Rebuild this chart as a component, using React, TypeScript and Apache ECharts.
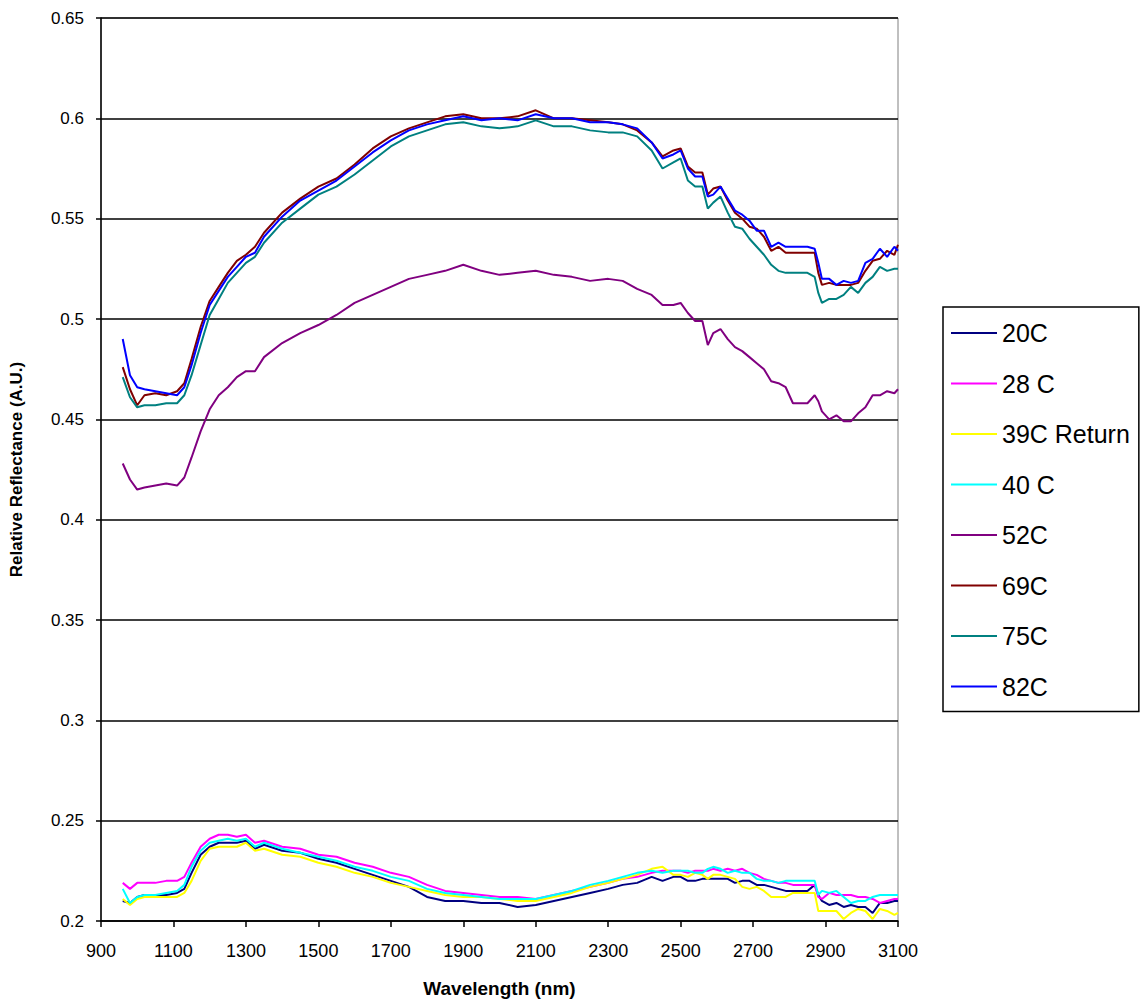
import React, { useEffect, useRef } from "react";
import * as echarts from "echarts";

// Wavelength sampling (nm) shared by every spectrum
const wavelengths = [
  960, 980, 1000, 1020, 1050, 1080, 1110, 1130, 1150, 1175,
  1200, 1225, 1250, 1275, 1300, 1325, 1350, 1400, 1450, 1500,
  1550, 1600, 1650, 1700, 1750, 1800, 1850, 1900, 1950, 2000,
  2050, 2100, 2150, 2200, 2250, 2300, 2340, 2380, 2420, 2450,
  2480, 2500, 2520, 2540, 2560, 2575, 2590, 2610, 2630, 2650,
  2670, 2690, 2710, 2730, 2750, 2770, 2790, 2810, 2830, 2850,
  2870, 2880, 2890, 2910, 2930, 2950, 2970, 2990, 3010, 3030,
  3050, 3070, 3090, 3100,
];

const r20C = [
  0.210, 0.209, 0.212, 0.213, 0.213, 0.213, 0.214, 0.216, 0.224, 0.233,
  0.237, 0.239, 0.239, 0.239, 0.240, 0.236, 0.238, 0.235, 0.234, 0.231,
  0.229, 0.226, 0.223, 0.220, 0.217, 0.212, 0.210, 0.210, 0.209, 0.209,
  0.207, 0.208, 0.210, 0.212, 0.214, 0.216, 0.218, 0.219, 0.222, 0.220,
  0.222, 0.222, 0.220, 0.220, 0.221, 0.221, 0.221, 0.221, 0.221, 0.219,
  0.220, 0.220, 0.218, 0.218, 0.217, 0.216, 0.215, 0.215, 0.215, 0.215,
  0.218, 0.213, 0.210, 0.208, 0.209, 0.207, 0.208, 0.207, 0.207, 0.204,
  0.209, 0.209, 0.210, 0.210,
];

const r28C = [
  0.219, 0.216, 0.219, 0.219, 0.219, 0.220, 0.220, 0.222, 0.229, 0.237,
  0.241, 0.243, 0.243, 0.242, 0.243, 0.239, 0.240, 0.237, 0.236, 0.233,
  0.232, 0.229, 0.227, 0.224, 0.222, 0.218, 0.215, 0.214, 0.213, 0.212,
  0.212, 0.211, 0.213, 0.215, 0.217, 0.219, 0.221, 0.222, 0.224, 0.225,
  0.225, 0.225, 0.224, 0.225, 0.225, 0.225, 0.226, 0.225, 0.226, 0.225,
  0.226, 0.224, 0.223, 0.221, 0.220, 0.219, 0.219, 0.218, 0.218, 0.218,
  0.218, 0.212, 0.211, 0.214, 0.213, 0.213, 0.213, 0.212, 0.212, 0.211,
  0.209, 0.210, 0.211, 0.211,
];

const r39CReturn = [
  0.211, 0.208, 0.211, 0.212, 0.212, 0.212, 0.212, 0.214, 0.220, 0.230,
  0.236, 0.237, 0.237, 0.237, 0.239, 0.235, 0.236, 0.233, 0.232, 0.229,
  0.227, 0.224, 0.222, 0.219, 0.217, 0.215, 0.213, 0.212, 0.212, 0.211,
  0.210, 0.210, 0.212, 0.214, 0.217, 0.219, 0.221, 0.223, 0.226, 0.227,
  0.223, 0.223, 0.222, 0.224, 0.223, 0.221, 0.223, 0.223, 0.222, 0.221,
  0.217, 0.216, 0.217, 0.215, 0.212, 0.212, 0.212, 0.214, 0.214, 0.214,
  0.214, 0.205, 0.205, 0.205, 0.205, 0.201, 0.204, 0.206, 0.205, 0.201,
  0.206, 0.205, 0.203, 0.204,
];

const r40C = [
  0.216, 0.209, 0.212, 0.213, 0.213, 0.214, 0.215, 0.218, 0.227, 0.235,
  0.239, 0.240, 0.241, 0.240, 0.241, 0.237, 0.239, 0.236, 0.234, 0.232,
  0.230, 0.227, 0.225, 0.222, 0.220, 0.216, 0.214, 0.213, 0.212, 0.211,
  0.211, 0.211, 0.213, 0.215, 0.218, 0.220, 0.222, 0.224, 0.225, 0.224,
  0.225, 0.225, 0.225, 0.224, 0.224, 0.226, 0.227, 0.226, 0.224, 0.225,
  0.224, 0.224, 0.221, 0.220, 0.220, 0.219, 0.220, 0.220, 0.220, 0.220,
  0.220, 0.213, 0.215, 0.214, 0.215, 0.212, 0.209, 0.210, 0.210, 0.212,
  0.213, 0.213, 0.213, 0.213,
];

const r52C = [
  0.428, 0.420, 0.415, 0.416, 0.417, 0.418, 0.417, 0.421, 0.431, 0.444,
  0.455, 0.462, 0.466, 0.471, 0.474, 0.474, 0.481, 0.488, 0.493, 0.497,
  0.502, 0.508, 0.512, 0.516, 0.520, 0.522, 0.524, 0.527, 0.524, 0.522,
  0.523, 0.524, 0.522, 0.521, 0.519, 0.520, 0.519, 0.515, 0.512, 0.507,
  0.507, 0.508, 0.503, 0.499, 0.499, 0.487, 0.493, 0.495, 0.490, 0.486,
  0.484, 0.481, 0.478, 0.475, 0.469, 0.468, 0.466, 0.458, 0.458, 0.458,
  0.462, 0.459, 0.454, 0.450, 0.452, 0.449, 0.449, 0.453, 0.456, 0.462,
  0.462, 0.464, 0.463, 0.465,
];

const r69C = [
  0.476, 0.465, 0.457, 0.462, 0.463, 0.462, 0.464, 0.468, 0.480, 0.496,
  0.509, 0.516, 0.523, 0.529, 0.532, 0.536, 0.543, 0.553, 0.560, 0.566,
  0.570, 0.577, 0.585, 0.591, 0.595, 0.598, 0.601, 0.602, 0.600, 0.600,
  0.601, 0.604, 0.600, 0.600, 0.599, 0.598, 0.597, 0.594, 0.588, 0.581,
  0.584, 0.585, 0.576, 0.573, 0.573, 0.562, 0.565, 0.566, 0.559, 0.553,
  0.550, 0.546, 0.545, 0.541, 0.534, 0.536, 0.533, 0.533, 0.533, 0.533,
  0.533, 0.523, 0.517, 0.518, 0.517, 0.517, 0.517, 0.518, 0.524, 0.529,
  0.530, 0.534, 0.532, 0.537,
];

const r75C = [
  0.471, 0.461, 0.456, 0.457, 0.457, 0.458, 0.458, 0.462, 0.472, 0.487,
  0.502, 0.510, 0.518, 0.523, 0.528, 0.531, 0.538, 0.548, 0.555, 0.562,
  0.566, 0.572, 0.579, 0.586, 0.591, 0.594, 0.597, 0.598, 0.596, 0.595,
  0.596, 0.599, 0.596, 0.596, 0.594, 0.593, 0.593, 0.591, 0.584, 0.575,
  0.578, 0.580, 0.569, 0.566, 0.566, 0.555, 0.558, 0.561, 0.553, 0.546,
  0.545, 0.540, 0.536, 0.532, 0.527, 0.524, 0.523, 0.523, 0.523, 0.523,
  0.521, 0.513, 0.508, 0.510, 0.510, 0.512, 0.516, 0.513, 0.518, 0.521,
  0.526, 0.524, 0.525, 0.525,
];

const r82C = [
  0.490, 0.472, 0.466, 0.465, 0.464, 0.463, 0.462, 0.466, 0.477, 0.493,
  0.507, 0.514, 0.521, 0.526, 0.531, 0.533, 0.541, 0.551, 0.559, 0.564,
  0.569, 0.576, 0.583, 0.589, 0.594, 0.597, 0.599, 0.601, 0.599, 0.600,
  0.599, 0.602, 0.600, 0.600, 0.598, 0.598, 0.597, 0.595, 0.588, 0.580,
  0.582, 0.584, 0.575, 0.571, 0.571, 0.561, 0.562, 0.566, 0.560, 0.554,
  0.552, 0.549, 0.544, 0.544, 0.536, 0.538, 0.536, 0.536, 0.536, 0.536,
  0.535, 0.528, 0.520, 0.520, 0.517, 0.519, 0.518, 0.519, 0.528, 0.530,
  0.535, 0.531, 0.536, 0.534,
];

const seriesNames = ["20C", "28 C", "39C Return", "40 C", "52C", "69C", "75C", "82C"];
const seriesValues = [r20C, r28C, r39CReturn, r40C, r52C, r69C, r75C, r82C];
const seriesColors = [
  "#000080", "#FF00FF", "#FFFF00", "#00FFFF",
  "#800080", "#800000", "#008080", "#0000FF",
];

const xTicks = [900, 1100, 1300, 1500, 1700, 1900, 2100, 2300, 2500, 2700, 2900, 3100];

const FONT = "'Liberation Sans', Arial, sans-serif";

export default function App() {
  const ref = useRef<HTMLDivElement>(null);

  useEffect(() => {
    if (!ref.current) return;
    const chart = echarts.init(ref.current, null, { renderer: "svg" });

    const series = seriesNames.map((name, i) => ({
      name,
      type: "line",
      data: wavelengths.map((w, j) => [w, seriesValues[i][j]]),
      showSymbol: false,
      symbol: "none",
      lineStyle: { color: seriesColors[i], width: 2 },
      itemStyle: { color: seriesColors[i] },
      emphasis: { disabled: true },
    }));

    chart.setOption({
      animation: false,
      backgroundColor: "#ffffff",
      textStyle: { fontFamily: FONT },
      grid: {
        left: 100,
        top: 18,
        right: 244,
        bottom: 80,
        show: true,
        borderColor: "#808080",
        borderWidth: 1,
        backgroundColor: "transparent",
      },
      legend: {
        orient: "vertical",
        left: 943,
        top: 307,
        icon: "rect",
        itemWidth: 46,
        itemHeight: 2,
        itemGap: 24.5,
        padding: [13, 9, 12, 8],
        borderColor: "#000000",
        borderWidth: 1.5,
        backgroundColor: "#ffffff",
        selectedMode: false,
        textStyle: {
          fontFamily: FONT,
          fontSize: 25,
          color: "#000000",
          lineHeight: 26,
        },
        data: seriesNames,
      },
      xAxis: {
        type: "value",
        min: 900,
        max: 3100,
        name: "Wavelength (nm)",
        nameLocation: "middle",
        nameGap: 58,
        nameTextStyle: {
          fontFamily: FONT,
          fontSize: 19,
          fontWeight: "bold",
          color: "#000000",
        },
        axisLine: { show: true, onZero: false, lineStyle: { color: "#000000", width: 1.5 } },
        axisTick: {
          show: true,
          length: 6,
          customValues: xTicks,
          lineStyle: { color: "#000000", width: 1.5 },
        },
        axisLabel: {
          customValues: xTicks,
          margin: 21,
          fontFamily: FONT,
          fontSize: 18,
          color: "#000000",
          formatter: (v: number) => String(v),
        },
        splitLine: { show: false },
      },
      yAxis: {
        type: "value",
        min: 0.2,
        max: 0.65,
        interval: 0.05,
        name: "Relative Reflectance (A.U.)",
        nameLocation: "middle",
        nameGap: 76,
        nameTextStyle: {
          fontFamily: FONT,
          fontSize: 17,
          fontWeight: "bold",
          color: "#000000",
        },
        axisLine: { show: true, lineStyle: { color: "#000000", width: 1.5 } },
        axisTick: { show: true, length: 5, lineStyle: { color: "#000000", width: 1.5 } },
        axisLabel: {
          margin: 17,
          fontFamily: FONT,
          fontSize: 17,
          color: "#000000",
          formatter: (v: number) => String(Math.round(v * 100) / 100),
        },
        splitLine: { show: true, lineStyle: { color: "#000000", width: 1.5 } },
      },
      series,
    });

    return () => {
      chart.dispose();
    };
  }, []);

  return (
    <div
      ref={ref}
      style={{ position: "absolute", left: 0, top: 0, width: 1142, height: 1003 }}
    />
  );
}
